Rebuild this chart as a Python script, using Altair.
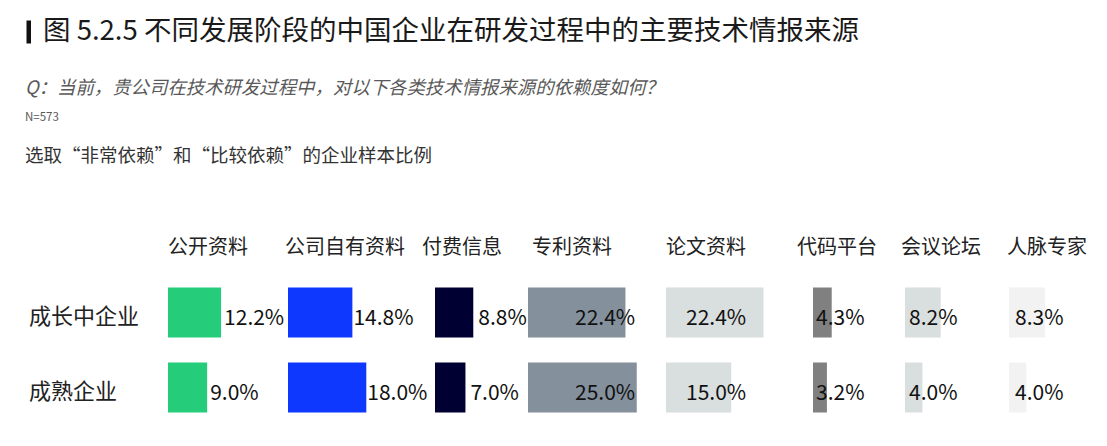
import altair as alt
import pandas as pd

# ---- data ----
categories = ["公开资料", "公司自有资料", "付费信息", "专利资料", "论文资料", "代码平台", "会议论坛", "人脉专家"]
stages = ["成长中企业", "成熟企业"]
growing = [12.2, 14.8, 8.8, 22.4, 22.4, 4.3, 8.2, 8.3]
mature = [9.0, 18.0, 7.0, 25.0, 15.0, 3.2, 4.0, 4.0]
colors = ["#25CD7A", "#0F38FF", "#000033", "#84909C", "#D9DEDE", "#808080", "#D9DEDE", "#F2F2F2"]

title_text = "图 5.2.5 不同发展阶段的中国企业在研发过程中的主要技术情报来源"
question_text = "Q：当前，贵公司在技术研发过程中，对以下各类技术情报来源的依赖度如何？"
n_text = "N=573"
note_text = "选取“非常依赖”和“比较依赖”的企业样本比例"

FONT = "Noto Sans CJK SC"
PX_PER_UNIT = 4.35          # pixels per percentage point
PANEL_H = 150
TOP = 266.5                 # distance from page top margin to grid top

# layout (styles): panel widths, label anchoring, header offsets
panel_widths = [120, 147, 93, 138, 147, 92, 104, 90]
label_anchor = ["end", "end", "end", "start", "start", "start", "start", "start"]
label_dx = [3, 1, 5, 47, 20, 3, 4, 6]
header_dx = [0, -3, -13, 4, 0, -16, -4, -2]

rows = []
for c, g, m in zip(categories, growing, mature):
    rows.append({"category": c, "stage": stages[0], "value": g})
    rows.append({"category": c, "stage": stages[1], "value": m})
df = pd.DataFrame(rows)
df["label"] = df["value"].map(lambda v: f"{v:.1f}%")

yscale = alt.Scale(domain=stages, paddingInner=1/3, paddingOuter=1/6)

# ---- left panel: headings and row labels ----
one = pd.DataFrame({"t": [0]})
anchor = alt.Chart(one).mark_rect(color="white").encode(
    x=alt.value(0), x2=alt.value(1), y=alt.value(-TOP), y2=alt.value(-TOP + 1))
title_bar = alt.Chart(one).mark_rect(color="#111111").encode(
    x=alt.value(18.5), x2=alt.value(23), y=alt.value(-254.5), y2=alt.value(-231.5))
title = alt.Chart(one).mark_text(
    align="left", baseline="middle", font=FONT, fontSize=27.5, color="#1A1A1A"
).encode(x=alt.value(35), y=alt.value(-243.5), text=alt.value(title_text))
question = alt.Chart(one).mark_text(
    align="left", baseline="middle", font=FONT, fontSize=18.4, fontStyle="italic", color="#595959"
).encode(x=alt.value(17), y=alt.value(-187.5), text=alt.value(question_text))
ntext = alt.Chart(one).mark_text(
    align="left", baseline="middle", font=FONT, fontSize=11.5, color="#595959"
).encode(x=alt.value(17), y=alt.value(-157.5), text=alt.value(n_text))
note = alt.Chart(one).mark_text(
    align="left", baseline="middle", font=FONT, fontSize=18.5, color="#333333"
).encode(x=alt.value(17), y=alt.value(-119.5), text=alt.value(note_text))

row_df = pd.DataFrame({"stage": stages})
row_labels = alt.Chart(row_df).mark_text(
    align="left", baseline="middle", font=FONT, fontSize=22, color="#222222", dy=4
).encode(
    x=alt.value(21),
    y=alt.Y("stage:N", scale=yscale, axis=None),
    text="stage:N",
)

left = alt.layer(anchor, title_bar, title, question, ntext, note, row_labels).properties(
    width=160, height=PANEL_H)

# ---- bar panels ----
panels = [left]
for i, cat in enumerate(categories):
    w = panel_widths[i]
    sub = df[df["category"] == cat]
    xscale = alt.Scale(domain=[0, w / PX_PER_UNIT], nice=False, zero=True)
    base = alt.Chart(sub)
    bars = base.mark_bar(color=colors[i], strokeWidth=0).encode(
        x=alt.X("value:Q", scale=xscale, axis=None),
        y=alt.Y("stage:N", scale=yscale, axis=None),
    )
    if label_anchor[i] == "end":
        lx = alt.X("value:Q", scale=xscale, axis=None)
    else:
        lx = alt.datum(0)
    labels = base.mark_text(
        align="left", baseline="middle", font=FONT, fontSize=21, color="#111111",
        dx=label_dx[i], dy=6,
    ).encode(
        x=lx,
        y=alt.Y("stage:N", scale=yscale, axis=None),
        text="label:N",
    )
    head_df = pd.DataFrame({"category": [cat]})
    header = alt.Chart(head_df).mark_text(
        align="left", baseline="middle", font=FONT, fontSize=20, color="#222222",
    ).encode(x=alt.value(header_dx[i]), y=alt.value(-27), text="category:N")
    panels.append(alt.layer(bars, labels, header).properties(width=w, height=PANEL_H))

chart = alt.hconcat(*panels, spacing=0, bounds="flush").properties(
    padding=0, background="white"
).configure_view(stroke=None, strokeWidth=0)

chart.save("out.html", embed_options={"renderer": "svg", "actions": False})
